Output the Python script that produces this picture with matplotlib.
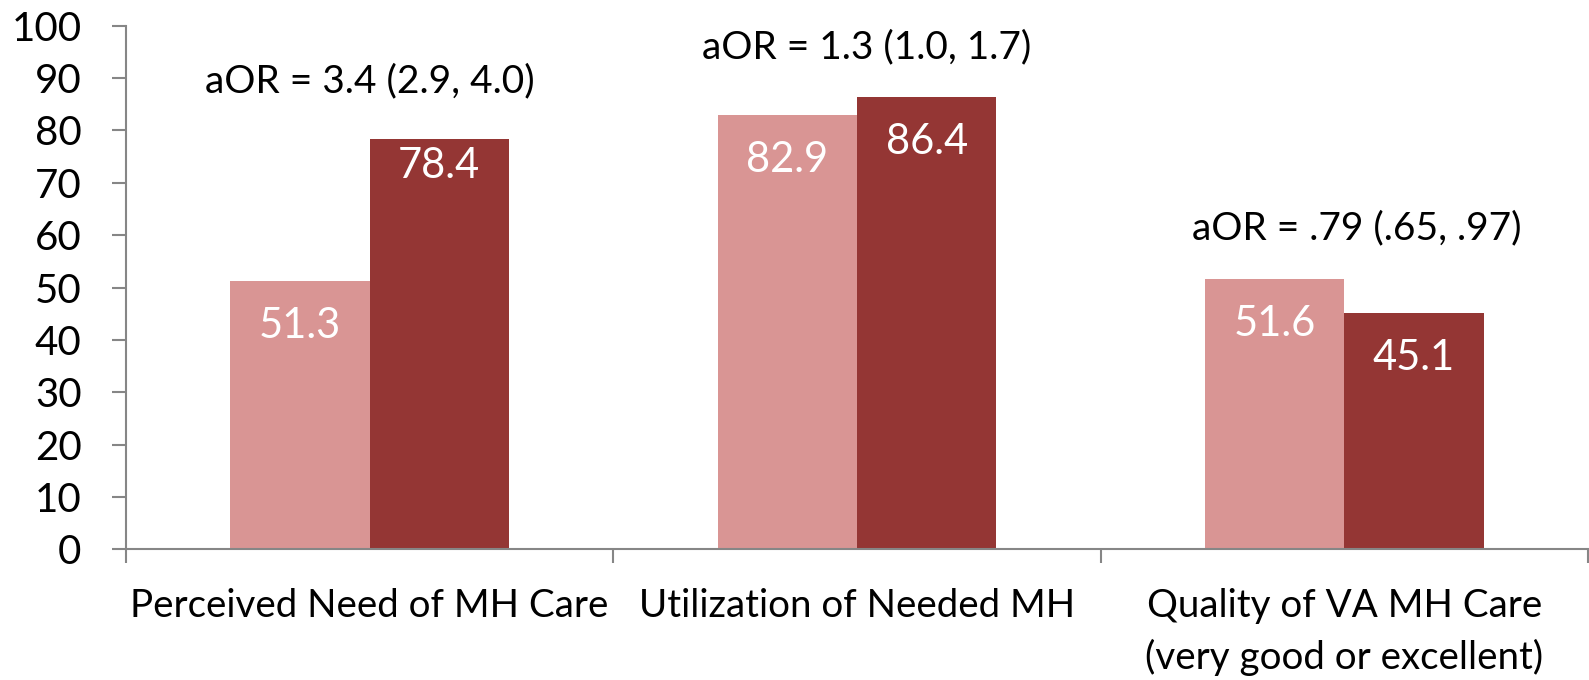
import numpy as np
import matplotlib
matplotlib.use("Agg")
import matplotlib.pyplot as plt

# Data
categories = ["Perceived Need of MH Care", "Utilization of Needed MH",
              "Quality of VA MH Care\n(very good or excellent)"]
series_a = [51.3, 82.9, 51.6]
series_b = [78.4, 86.4, 45.1]
aor_labels = ["aOR = 3.4 (2.9, 4.0)", "aOR = 1.3 (1.0, 1.7)", "aOR = .79 (.65, .97)"]
aor_heights = [89.4, 95.8, 61.3]

plt.rcParams['font.family'] = ['Lato', 'DejaVu Sans']

color_a = "#D99594"
color_b = "#943634"
axis_color = "#868686"

fig = plt.figure(figsize=(15.89, 6.8), dpi=100)
ax = fig.add_axes([0.0793, 0.192, 0.9201, 0.7702])

x = np.arange(len(categories))
w = 0.2857
bars_a = ax.bar(x - w / 2, series_a, w, color=color_a)
bars_b = ax.bar(x + w / 2, series_b, w, color=color_b)

# value labels inside bars
for bars, vals in [(bars_a, series_a), (bars_b, series_b)]:
    for b, v in zip(bars, vals):
        off = 5.2 if v == 78.4 else 8.6
        ax.text(b.get_x() + b.get_width() / 2, v - off, f"{v:.1f}",
                ha="center", va="center", color="white", fontsize=30)

# aOR annotations
aor_shift = [0.0, 0.02, 0.025]
for xi, txt, h, dx in zip(x, aor_labels, aor_heights, aor_shift):
    ax.text(xi + dx, h, txt, ha="center", va="center", fontsize=28)

ax.set_xlim(-0.5, 2.5)
ax.set_ylim(0, 100)
ax.set_yticks(np.arange(0, 101, 10))
ax.tick_params(axis="y", labelsize=29, length=10, width=1.5, color=axis_color, pad=22)

ax.set_xticks([-0.5, 0.5, 1.5, 2.5])
ax.set_xticklabels([])
ax.tick_params(axis="x", which="major", length=10, width=1.5, color=axis_color)
ax.set_xticks(x, minor=True)
ax.set_xticklabels(categories, minor=True, fontsize=27.7, va="top", linespacing=1.5)
ax.tick_params(axis="x", which="minor", length=0, pad=27.5)

for s in ["top", "right"]:
    ax.spines[s].set_visible(False)
for s in ["left", "bottom"]:
    ax.spines[s].set_color(axis_color)
    ax.spines[s].set_linewidth(1.5)

fig.savefig("out.png", dpi=100)
